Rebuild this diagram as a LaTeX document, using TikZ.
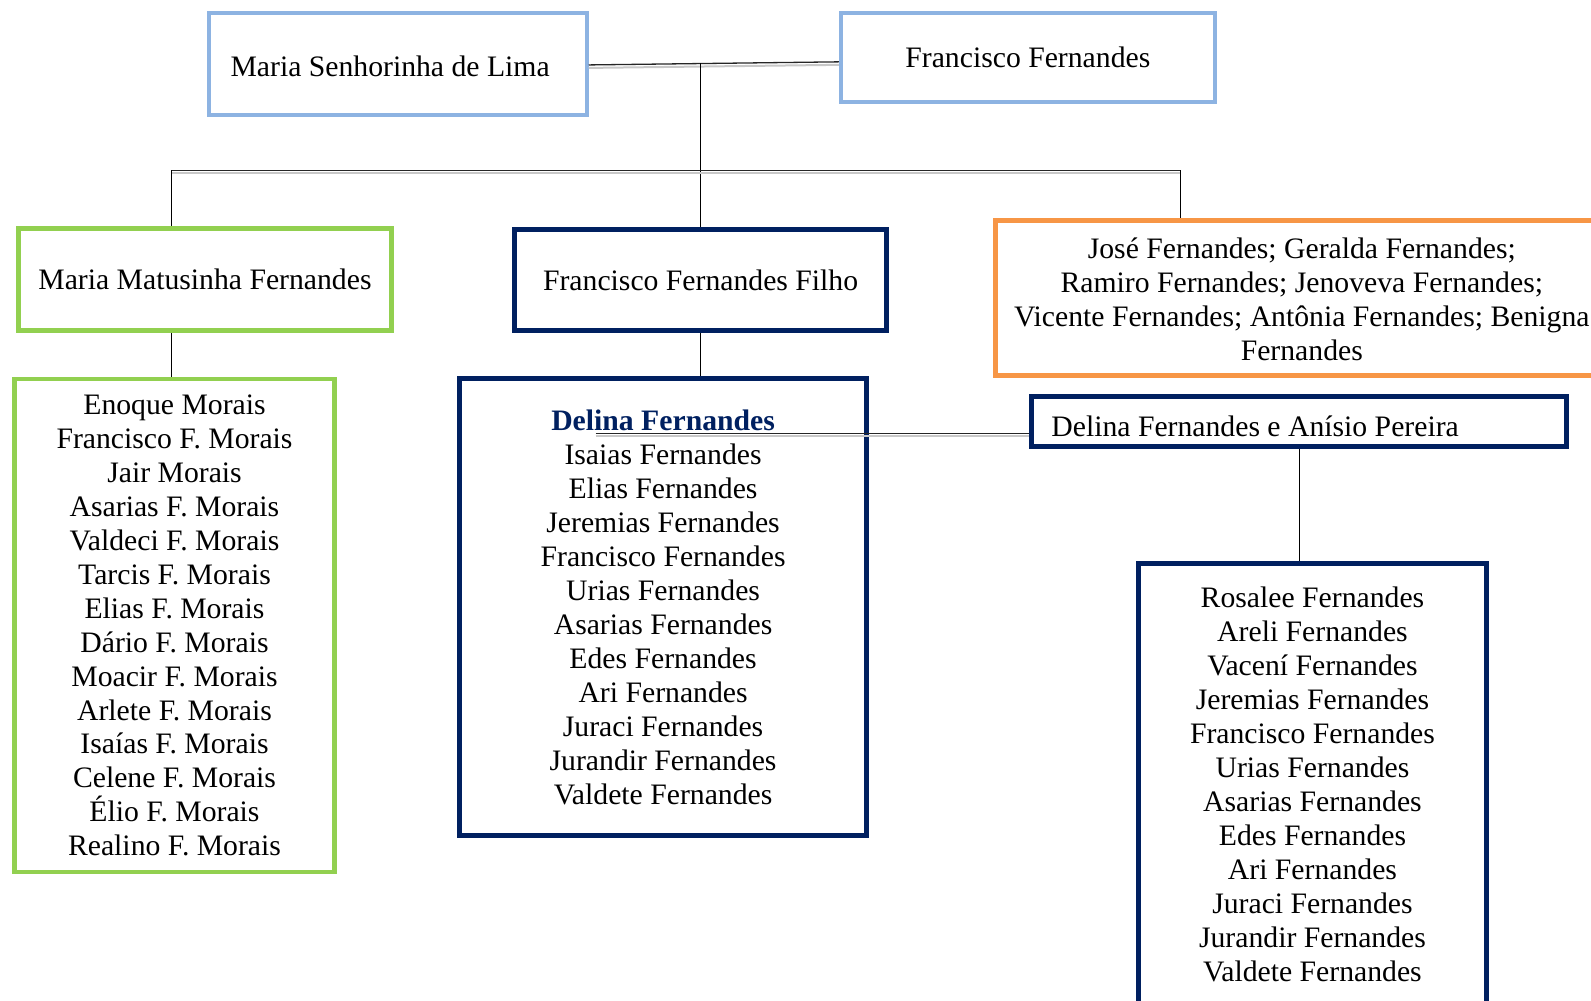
\documentclass[tikz,border=0pt]{standalone}
\usepackage{fontspec}
\setmainfont{Liberation Serif}
\definecolor{lblue}{HTML}{8DB3E2}
\definecolor{lgreen}{HTML}{92D050}
\definecolor{navy}{HTML}{002060}
\definecolor{orng}{HTML}{F79646}
\definecolor{shad}{HTML}{C8C8C8}
\begin{document}
\begin{tikzpicture}[x=1.0147pt,y=-1.0147pt,
  every node/.style={font=\fontsize{29.7}{33.94}\selectfont, inner sep=0pt},
  bluebox/.style={draw=lblue, line width=4pt},
  greenbox/.style={draw=lgreen, line width=4.8pt},
  navybox/.style={draw=navy, line width=4.8pt},
  orangebox/.style={draw=orng, line width=4.8pt},
  txt/.style={align=center},
  conn/.style={draw=black, line width=1.1pt},
  sconn/.style={draw=black!85, line width=1.3pt, preaction={draw=shad, line width=2pt, transform canvas={yshift=-3pt}}}
]
\useasboundingbox (0,0) rectangle (1568,986.5);
\clip (0,0) rectangle (1568,986.5);

% top generation
\node (ms) [bluebox, minimum width=378, minimum height=102] at (392,63) {};
\node (mst) [anchor=west] at (227,65) {Maria Senhorinha de Lima};
\node (ff) [bluebox, minimum width=374, minimum height=89] at (1013,57) {Francisco Fernandes};

% second generation
\node (mm) [greenbox, minimum width=373, minimum height=102] at (202,275.5) {Maria Matusinha Fernandes};
\node (fj) [navybox, minimum width=372, minimum height=101] at (690.5,276) {Francisco Fernandes Filho};
\node (ob) [orangebox, minimum width=700, minimum height=155, anchor=north west] at (979,215) {};
\node (ot) [txt] at (1283,295) {José Fernandes; Geralda Fernandes;\\Ramiro Fernandes; Jenoveva Fernandes;\\Vicente Fernandes; Antônia Fernandes; Benigna\\Fernandes};

% lists
\node (gl) [greenbox, txt, minimum width=320, minimum height=493] at (172,616.5) {Enoque Morais\\Francisco F. Morais\\Jair Morais\\Asarias F. Morais\\Valdeci F. Morais\\Tarcis F. Morais\\Elias F. Morais\\Dário F. Morais\\Moacir F. Morais\\Arlete F. Morais\\Isaías F. Morais\\Celene F. Morais\\Élio F. Morais\\Realino F. Morais};
\node (nl) [navybox, txt, minimum width=407, minimum height=457] at (653.5,598.5) {\textcolor{navy}{\textbf{Delina Fernandes}}\\Isaias Fernandes\\Elias Fernandes\\Jeremias Fernandes\\Francisco Fernandes\\Urias Fernandes\\Asarias Fernandes\\Edes Fernandes\\Ari Fernandes\\Juraci Fernandes\\Jurandir Fernandes\\Valdete Fernandes};

\node (db) [navybox, minimum width=535, minimum height=50] at (1280,415.5) {};
\node (dt) [anchor=west] at (1036,420) {Delina Fernandes e Anísio Pereira};

\node (bb) [navybox, minimum width=348, minimum height=500, anchor=north] at (1293.5,553) {};
\node (bt) [txt] at (1293.5,773) {Rosalee Fernandes\\Areli Fernandes\\Vacení Fernandes\\Jeremias Fernandes\\Francisco Fernandes\\Urias Fernandes\\Asarias Fernandes\\Edes Fernandes\\Ari Fernandes\\Juraci Fernandes\\Jurandir Fernandes\\Valdete Fernandes};

% connectors
\coordinate (j1) at (690,62.5);
\draw[sconn] ([yshift=-1pt]ms.east) -- ([yshift=-4pt]ff.west);
\draw[conn] (j1) -- (j1 |- fj.north);

\coordinate (b1) at (169,168);
\coordinate (b2) at (1163,168);
\draw[sconn] (b1) -- (b2);
\draw[conn] (b1) -- (b1 |- mm.north);
\draw[conn] (b2) -- (b2 |- ob.north);

\draw[conn] (b1 |- mm.south) -- (b1 |- gl.north);
\draw[conn] (fj.south) -- (fj.south |- nl.north);

\coordinate (d1) at (587,427);
\draw[sconn] (d1) -- (d1 -| db.west);

\coordinate (d2) at (1281,440);
\draw[conn] (d2 |- db.south) -- (d2 |- bb.north);
\end{tikzpicture}
\end{document}
